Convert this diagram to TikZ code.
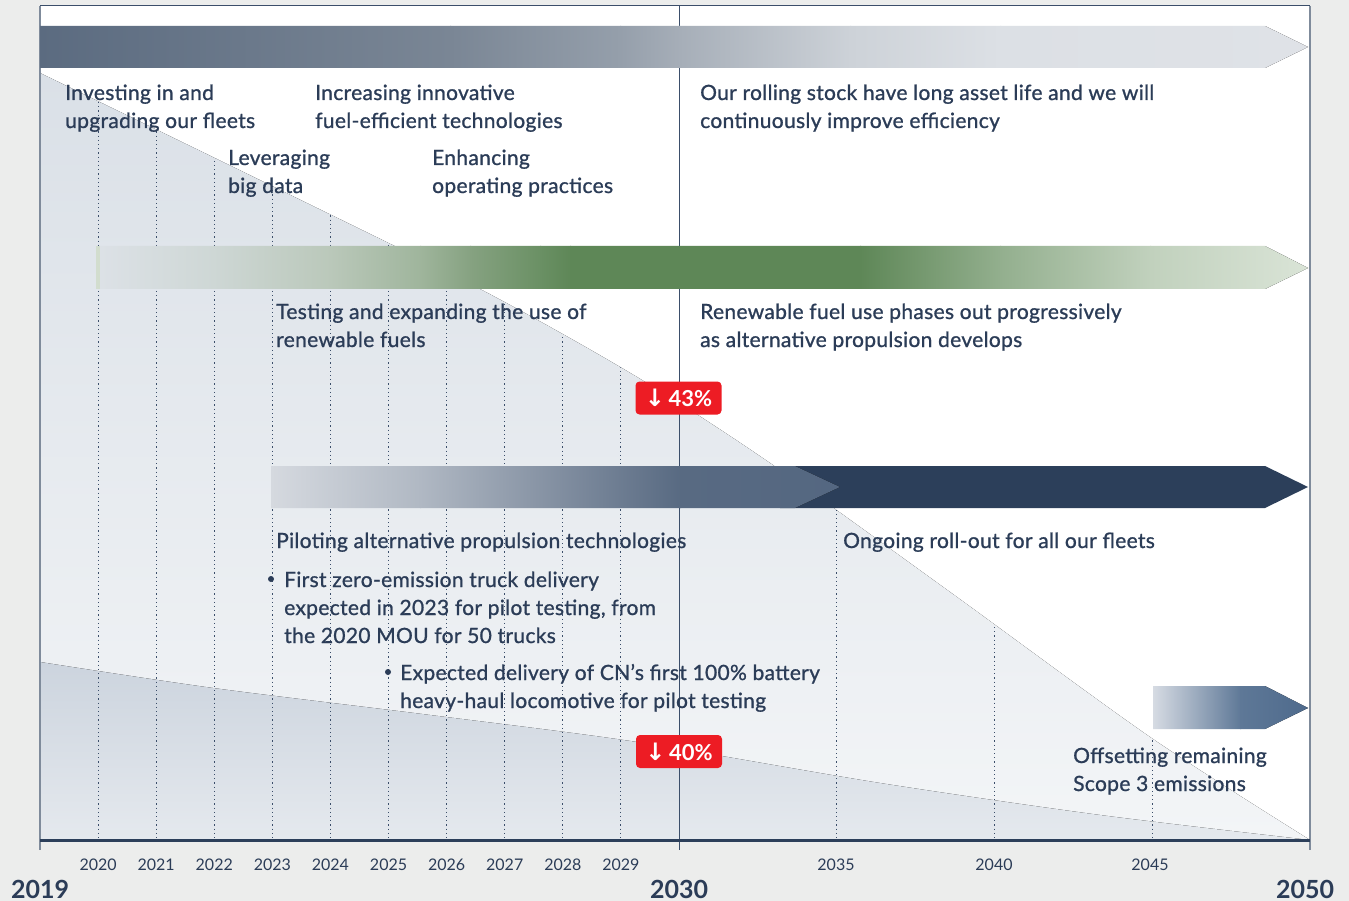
\documentclass[tikz,border=0pt]{standalone}
\usepackage{fontspec}
\setmainfont{Lato}
\newfontfamily\bodyfont{Lato}[LetterSpace=1.5, FakeBold=1]
\newfontfamily\symfont{DejaVu Sans}
\definecolor{bg}{HTML}{ECEDEC}
\definecolor{navy}{HTML}{2B3C57}
\definecolor{frameblue}{HTML}{7F8B9B}
\definecolor{lineblue}{HTML}{3B4E6A}
\definecolor{tri1}{HTML}{DAE0E7}
\definecolor{tri2}{HTML}{F3F5F7}
\definecolor{low1}{HTML}{CCD4DE}
\definecolor{low2}{HTML}{E5E9EE}
\definecolor{badgered}{HTML}{ED1C24}
\definecolor{darkbar}{HTML}{2C3F5A}
\definecolor{greenstripe}{HTML}{D2DDCE}
\newcommand\gradseg[6]{\definecolor{gsa}{HTML}{#5}\definecolor{gsb}{HTML}{#6}\fill[left color=gsa,right color=gsb] (#1,#3) rectangle (#2,#4);}
\tikzset{
  txt/.style={anchor=base west, inner sep=0pt, text=navy, font=\bodyfont\fontsize{21}{24}\selectfont},
  yr/.style={anchor=base, inner sep=0pt, text=navy, font=\fontsize{16}{18}\selectfont},
  bigyr/.style={anchor=base, inner sep=0pt, text=navy, font=\bfseries\fontsize{25}{28}\selectfont},
  badge/.style={fill=badgered, text=white, rounded corners=4pt, minimum width=86pt, minimum height=33pt, inner sep=0pt, font=\bfseries\fontsize{22}{24}\selectfont},
  dotline/.style={draw=lineblue, line width=1pt, dash pattern=on 1.2pt off 3pt},
  bulletdot/.style={circle, fill=navy, inner sep=0pt, minimum size=6pt}
}
\begin{document}
\begin{tikzpicture}[x=1pt,y=-1pt]
\useasboundingbox (0,0) rectangle (1349,901);
\fill[bg] (0,0) rectangle (1349,901);
\fill[white] (40,6) rectangle (1310,840);
% big decreasing triangle
\fill[top color=tri1, bottom color=tri2] plot[smooth] coordinates {(40,73) (272,186) (480,289) (637,377) (770,463) (950,592) (1150,737) (1310,840)} -- (40,840) -- cycle;
% lower shape
\fill[top color=low1, bottom color=low2] plot[smooth] coordinates {(40,662) (213,688) (430,715) (637,742) (880,783) (1100,815) (1310,840)} -- (40,840) -- cycle;
% dotted year lines inside the triangle
\begin{scope}
\clip plot[smooth] coordinates {(40,73) (272,186) (480,289) (637,377) (770,463) (950,592) (1150,737) (1310,840)} -- (40,840) -- cycle;
\foreach \k in {1,...,10} \draw[dotline] ({40+58.09*\k},60) -- ({40+58.09*\k},840);
\foreach \xx in {836,994,1152} \draw[dotline] (\xx,60) -- (\xx,840);
\end{scope}
% 2030 line
\draw[lineblue, line width=1pt] (679,6) -- (679,850);
% frame
\draw[frameblue, line width=2pt] (40,6) -- (40,850);
\draw[frameblue, line width=1.5pt] (1310,6) -- (1310,850);
\draw[lineblue, line width=1pt] (40,6) -- (1310,6);
% top arrow
\begin{scope}
\clip (40,26) -- (1265,26) -- (1308,47) -- (1265,68) -- (40,68) -- cycle;
\gradseg{39}{451}{26}{68}{5B6B80}{7A8695}
\gradseg{450}{621}{26}{68}{7A8695}{959FAB}
\gradseg{620}{680}{26}{68}{959FAB}{A6AEB8}
\gradseg{679}{851}{26}{68}{A6AEB8}{CDD2D8}
\gradseg{850}{1001}{26}{68}{CDD2D8}{DCE0E5}
\gradseg{1000}{1310}{26}{68}{DCE0E5}{DFE2E7}
\end{scope}
% green arrow
\begin{scope}
\clip (96,246) -- (1265,246) -- (1308,268) -- (1265,289) -- (96,289) -- cycle;
\fill[greenstripe] (96,246) rectangle (101,289);
\gradseg{100}{214}{246}{289}{DCE1E6}{CED7D5}
\gradseg{213}{331}{246}{289}{CED7D5}{BAC8BA}
\gradseg{330}{421}{246}{289}{BAC8BA}{9FB59C}
\gradseg{420}{471}{246}{289}{9FB59C}{86A281}
\gradseg{470}{541}{246}{289}{86A281}{6A9064}
\gradseg{540}{571}{246}{289}{6A9064}{5E8757}
\gradseg{570}{861}{246}{289}{5E8757}{5E8757}
\gradseg{860}{1001}{246}{289}{5E8757}{93AF8E}
\gradseg{1000}{1151}{246}{289}{93AF8E}{C1D1BD}
\gradseg{1150}{1310}{246}{289}{C1D1BD}{DAE4D7}
\end{scope}
% dark arrow
\fill[darkbar] (780,466) -- (1265,466) -- (1308,487) -- (1265,508) -- (780,508) -- cycle;
\begin{scope}
\clip (271,466) -- (795,466) -- (840,487) -- (795,508) -- (271,508) -- cycle;
\gradseg{271}{421}{466}{508}{D5D9DF}{B0B8C3}
\gradseg{420}{561}{466}{508}{B0B8C3}{818EA0}
\gradseg{560}{681}{466}{508}{818EA0}{586A82}
\gradseg{680}{841}{466}{508}{586A82}{546781}
\end{scope}
% small arrow
\begin{scope}
\clip (1153,686) -- (1265,686) -- (1308,708) -- (1265,729) -- (1153,729) -- cycle;
\gradseg{1153}{1241}{686}{729}{D6DBE3}{5E7897}
\gradseg{1240}{1310}{686}{729}{5E7897}{4E6A8C}
\end{scope}
% axis
\draw[darkbar, line width=3pt] (40,840) -- (1310,840);
% texts
\node[txt] (inv1) at (65,100) {Investing in and};
\node[txt] (inv2) at (65,128) {upgrading our fleets};
\node[txt] (inc1) at (315,100) {Increasing innovative};
\node[txt] (inc2) at (315,128) {fuel-efficient technologies};
\node[txt] (lev1) at (228,165) {Leveraging};
\node[txt] (lev2) at (228,193) {big data};
\node[txt] (enh1) at (432,165) {Enhancing};
\node[txt] (enh2) at (432,193) {operating practices};
\node[txt] (our1) at (700,100) {Our rolling stock have long asset life and we will};
\node[txt] (our2) at (700,128) {continuously improve efficiency};
\node[txt] (tst1) at (276,319) {Testing and expanding the use of};
\node[txt] (tst2) at (276,347) {renewable fuels};
\node[txt] (ren1) at (700,319) {Renewable fuel use phases out progressively};
\node[txt] (ren2) at (700,347) {as alternative propulsion develops};
\node[txt] (pil) at (276,548) {Piloting alternative propulsion technologies};
\node[txt] (ong) at (843,548) {Ongoing roll-out for all our fleets};
\node[bulletdot] (b1) at (271,579) {};
\node[txt] (fz1) at (284,587) {First zero-emission truck delivery};
\node[txt] (fz2) at (284,615) {expected in 2023 for pilot testing, from};
\node[txt] (fz3) at (284,643) {the 2020 MOU for 50 trucks};
\node[bulletdot] (b2) at (388,672) {};
\node[txt] (ex1) at (400,680) {Expected delivery of CN’s first 100\% battery};
\node[txt] (ex2) at (400,708) {heavy-haul locomotive for pilot testing};
\node[txt] (off1) at (1073,763) {Offsetting remaining};
\node[txt] (off2) at (1073,791) {Scope 3 emissions};
% badges
\node[badge] (b43) at (678.5,398) {{\symfont\bfseries\fontsize{24}{24}\selectfont ↓}\,43\%};
\node[badge] (b40) at (679,751.5) {{\symfont\bfseries\fontsize{24}{24}\selectfont ↓}\,40\%};
% years
\foreach \k/\y in {1/2020,2/2021,3/2022,4/2023,5/2024,6/2025,7/2026,8/2027,9/2028,10/2029}
  \node[yr] (y\y) at ({40+58.09*\k},870) {\y};
\node[yr] (y2035) at (836,870) {2035};
\node[yr] (y2040) at (994,870) {2040};
\node[yr] (y2045) at (1150,870) {2045};
\node[bigyr] (y2019) at (40,898) {2019};
\node[bigyr] (y2030) at (679,898) {2030};
\node[bigyr] (y2050) at (1305,898) {2050};
\end{tikzpicture}
\end{document}
